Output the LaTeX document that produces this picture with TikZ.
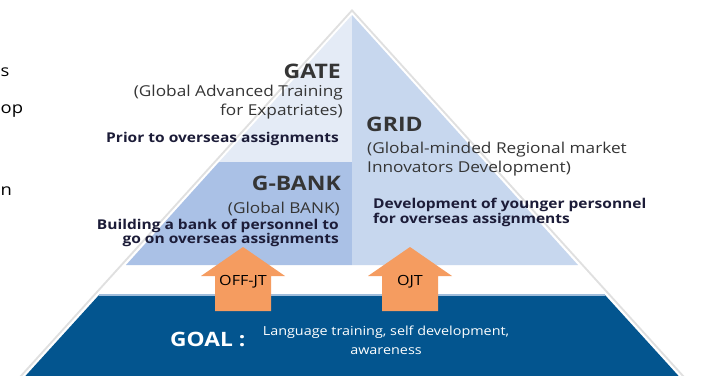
\documentclass[tikz,border=0pt]{standalone}
\usepackage{fontspec}
\setmainfont{Open Sans}[FakeStretch=1.15]
\usepackage{tikz}

\definecolor{gatefill}{HTML}{E4EBF6}
\definecolor{gridfill}{HTML}{C7D7EE}
\definecolor{bankfill}{HTML}{AAC1E6}
\definecolor{goalfill}{HTML}{03558F}
\definecolor{arrowfill}{HTML}{F59C60}
\definecolor{darktxt}{HTML}{353535}
\definecolor{navytxt}{HTML}{1C1C38}

\begin{document}
\begin{tikzpicture}
[x=1pt,y=-1pt,%%%%%%%%%%%%%%%%%%%%%%%%%%%%%%
title/.style={font=\bfseries\fontsize{20}{22}\selectfont, text=darktxt, inner sep=0},
sub/.style={font=\fontsize{15}{19}\selectfont, text=darktxt, inner sep=0},
note/.style={font=\bfseries\fontsize{13.5}{13.5}\selectfont, text=navytxt, inner sep=0},
frag/.style={font=\fontsize{16}{19}\selectfont, text=black, inner sep=0},
]%%%%%%%%%%%%%%%%%%%%%%%%%%%%%%

\clip (0,0) rectangle (701,375);
\fill[white] (0,0) rectangle (701,375);

% outline and shadow
\draw[black!12, line width=8, line join=miter] (352,15) -- (678,375) -- (26,375) -- cycle;
\draw[white, line width=4, line join=miter] (352,15) -- (678,375) -- (26,375) -- cycle;
\fill[white] (352,15) -- (678,375) -- (26,375) -- cycle;

% layers
\fill[gatefill] (352,15) -- (219,162) -- (352,162) -- cycle;
\fill[bankfill] (219,162) -- (126,265) -- (352,265) -- (352,162) -- cycle;
\fill[gridfill] (352,15) -- (578,265) -- (352,265) -- cycle;
\fill[goalfill] (99,295) -- (605,295) -- (685,383) -- (19,383) -- cycle;
\draw[gridfill!80!goalfill, line width=1.2] (99,295) -- (605,295);

% arrows
\foreach \x/\nm/\lbl in {243/offjt/OFF-JT, 410/ojt/OJT}{
\fill[arrowfill] (\x,247) -- (\x+42,276) -- (\x+28,276) -- (\x+28,311)
  -- (\x-28,311) -- (\x-28,276) -- (\x-42,276) -- cycle;
\node[sub, font=\fontsize{14}{16}\selectfont, text=black] (\nm) at (\x,282) {\lbl};
}

% GATE
\node[title, anchor=east] (gate) at (341,71) {GATE};
\node[sub, align=right, anchor=north east] (gatesub) at (343,85) {(Global Advanced Training\\for Expatriates)};
\node[note, anchor=east] (gatenote) at (339,139) {Prior to overseas assignments};

% GRID
\node[title, anchor=west] (grid) at (366,124) {GRID};
\node[sub, align=left, anchor=north west] (gridsub) at (367,142) {(Global-minded Regional market\\Innovators Development)};
\node[note, align=left, anchor=north west] (gridnote) at (373,198) {Development of younger personnel\\for overseas assignments};

% G-BANK
\node[title, anchor=east] (gbank) at (341,183) {G-BANK};
\node[sub, anchor=east] (gbanksub) at (340,209) {(Global BANK)};
\node[note, align=right, anchor=north east] (gbanknote) at (339,219) {Building a bank of personnel to\\go on overseas assignments};

% GOAL
\node[title, text=white, font=\bfseries\fontsize{19.8}{22}\selectfont, anchor=west] (goal) at (170,339) {GOAL :};
\node[sub, text=white, font=\fontsize{12.5}{19}\selectfont, align=center] (goalsub) at (386,340) {Language training, self development,\\awareness};

% cut-off text at the left margin
\node[frag, anchor=west] (fraga) at (0.5,72) {s};
\node[frag, anchor=west] (fragb) at (0.5,111) {op};
\node[frag, anchor=west] (fragc) at (0.5,191) {n};
\end{tikzpicture}
\end{document}
